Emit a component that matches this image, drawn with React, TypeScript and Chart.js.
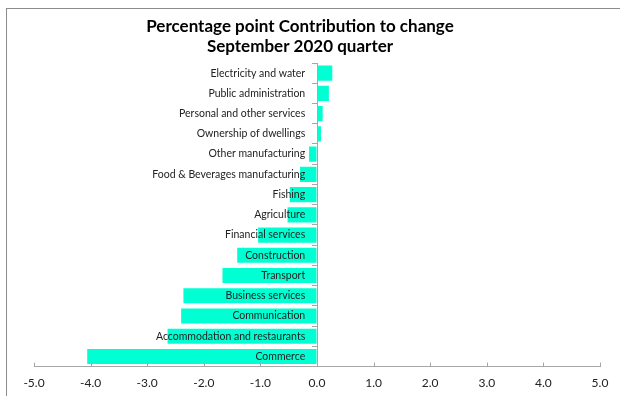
import React, { useEffect, useRef } from "react";
import { Chart, registerables } from "chart.js";

Chart.register(...registerables);

// Industries, top to bottom
const industries: string[] = [
  "Electricity and water",
  "Public administration",
  "Personal and other services",
  "Ownership of dwellings",
  "Other manufacturing",
  "Food & Beverages manufacturing",
  "Fishing",
  "Agriculture",
  "Financial services",
  "Construction",
  "Transport",
  "Business services",
  "Communication",
  "Accommodation and restaurants",
  "Commerce",
];

// Percentage point contribution to change, September 2020 quarter
const contributions: number[] = [
  0.27, 0.21, 0.1, 0.07, -0.14, -0.3, -0.48, -0.52, -1.04, -1.41, -1.67, -2.36,
  -2.4, -2.64, -4.06,
];

const titleLines: string[] = [
  "Percentage point Contribution to change",
  "September 2020 quarter",
];

const FONT = "Lato, 'Open Sans', sans-serif";
const AXIS_GREY = "#a6a6a6";

// Two-line heading centred over the framed panel
const headingPlugin = {
  id: "heading",
  afterDraw(chart: Chart) {
    const { ctx } = chart;
    ctx.save();
    ctx.fillStyle = "#000";
    ctx.font = `bold 17px ${FONT}`;
    ctx.textAlign = "center";
    ctx.textBaseline = "middle";
    titleLines.forEach((line, i) => {
      ctx.fillText(line, 300, 27 + i * 20);
    });
    ctx.restore();
  },
};

// Short x-axis tick marks pointing up into the plot
const innerTicksPlugin = {
  id: "innerTicks",
  afterDraw(chart: Chart) {
    const { ctx } = chart;
    const xs = chart.scales.x;
    const y0 = xs.top;
    ctx.save();
    ctx.strokeStyle = AXIS_GREY;
    ctx.lineWidth = 1;
    ctx.beginPath();
    xs.ticks.forEach((t) => {
      const px = Math.round(xs.getPixelForValue(t.value)) + 0.5;
      ctx.moveTo(px, y0);
      ctx.lineTo(px, y0 - 4);
    });
    ctx.stroke();
    ctx.restore();
  },
};

export default function App() {
  const canvasRef = useRef<HTMLCanvasElement | null>(null);

  useEffect(() => {
    if (!canvasRef.current) return;
    const chart = new Chart(canvasRef.current, {
      type: "bar",
      data: {
        labels: industries,
        datasets: [
          {
            data: contributions,
            backgroundColor: "#00FFD2",
            borderWidth: 0,
            barPercentage: 0.75,
            categoryPercentage: 1,
          },
        ],
      },
      options: {
        indexAxis: "y",
        animation: false,
        responsive: false,
        layout: { padding: { left: 34, right: 20, top: 63, bottom: 1 } },
        plugins: {
          legend: { display: false },
          tooltip: { enabled: false },
          title: { display: false },
        },
        scales: {
          x: {
            min: -5,
            max: 5,
            grid: {
              display: true,
              drawOnChartArea: false,
              tickLength: 4,
              color: "rgba(0,0,0,0)",
            },
            border: { color: AXIS_GREY },
            ticks: {
              stepSize: 1,
              color: "#222",
              font: { family: FONT, size: 12 },
              padding: 5,
              callback: (v) => Number(v).toFixed(1),
            },
          },
          y: {
            position: { x: 0 },
            grid: {
              display: true,
              drawOnChartArea: false,
              tickLength: 5,
              color: AXIS_GREY,
            },
            border: { color: AXIS_GREY },
            ticks: {
              z: 1,
              color: "#222",
              font: { family: FONT, size: 10.5 },
              autoSkip: false,
              // keep the names clear of the zero line
              callback(value) {
                return this.getLabelForValue(Number(value)) + "\u2002\u2002\u2009";
              },
            },
          },
        },
      },
      plugins: [headingPlugin, innerTicksPlugin],
    });
    return () => chart.destroy();
  }, []);

  return (
    <div
      style={{
        position: "fixed",
        left: 0,
        top: 0,
        width: 620,
        height: 396,
        overflow: "hidden",
        background: "#fff",
      }}
    >
      <div
        style={{
          position: "absolute",
          left: 6,
          top: 8,
          width: 700,
          height: 500,
          border: "1.5px solid #8c8c8c",
        }}
      />
      <canvas
        ref={canvasRef}
        width={620}
        height={396}
        style={{ position: "absolute", left: 0, top: 0 }}
      />
    </div>
  );
}
